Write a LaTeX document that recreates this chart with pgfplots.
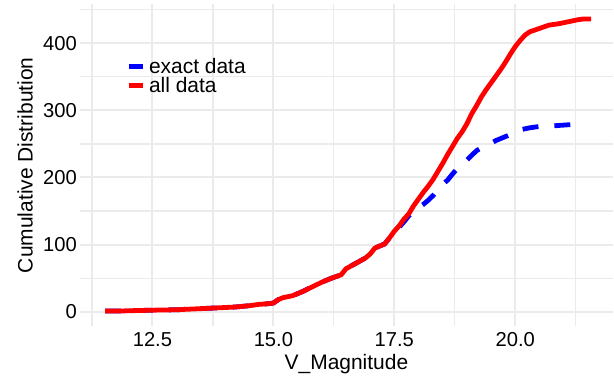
\documentclass[border=0pt]{standalone}
\usepackage{fontspec}
\setmainfont{Liberation Sans}
\usepackage{pgfplots}
\pgfplotsset{compat=1.18}
\definecolor{gridc}{HTML}{EBEBEB}
\begin{document}
\begin{tikzpicture}
\begin{axis}[
  scale only axis,
  width=534pt, height=323pt,
  xmin=11.0, xmax=22.02,
  ymin=-21.9, ymax=458.4,
  axis line style={draw=none},
  tick style={draw=none},
  xtick={12.5,15,17.5,20},
  xticklabels={12.5,15.0,17.5,20.0},
  minor xtick={11.25,13.75,16.25,18.75,21.25},
  ytick={0,100,200,300,400},
  minor ytick={50,150,250,350,450},
  grid=both,
  major grid style={draw=gridc, line width=2pt},
  minor grid style={draw=gridc, line width=1.2pt},
  /pgf/number format/assume math mode=true,
  ticklabel style={font=\fontsize{20.2}{22}\selectfont, text=black},
  xticklabel style={anchor=base, yshift=-20.5pt},
  yticklabel style={xshift=0.5pt},
  xlabel={V\_Magnitude},
  ylabel={Cumulative Distribution},
  label style={font=\fontsize{21}{24}\selectfont},
  xlabel style={at={(axis description cs:0.5,-0.1331)}, anchor=base},
  ylabel style={at={(axis description cs:-0.0886,0.5)}, anchor=base},
  legend cell align=left,
  legend style={at={(axis description cs:0.081,0.846)}, anchor=north west,
    draw=none, fill=none, font=\fontsize{21}{22}\selectfont,
    row sep=-1pt, column sep=2pt},
  legend image code/.code={\draw[#1, solid, line width=4.8pt] (0pt,0pt) -- (14pt,0pt);},
]
\addplot[blue, line width=4.8pt, dash pattern=on 16pt off 16pt, line join=round] coordinates {
(11.52,1) (11.8,1) (12.0,1.5) (12.3,2) (12.6,2.5) (13.0,3) (13.3,4) (13.6,5)
(13.9,6) (14.2,7) (14.5,9) (14.7,11) (14.9,12) (15.0,13) (15.1,18) (15.2,21)
(15.4,24) (15.6,30) (15.8,37) (16.0,44) (16.2,50) (16.4,55) (16.5,64) (16.7,72)
(16.9,80) (17.0,86) (17.1,95) (17.3,101) (17.4,110)
(17.5,118) (17.6,126) (17.7,134) (17.8,143) (17.9,150) (18.0,155) (18.1,160)
(18.2,166) (18.3,173) (18.4,182) (18.5,190) (18.6,196) (18.7,205) (18.8,213)
(18.9,219) (19.0,226) (19.1,233) (19.2,240) (19.3,244) (19.4,248) (19.5,251)
(19.6,255) (19.7,258) (19.8,261) (19.9,264) (20.0,268) (20.1,271) (20.3,274)
(20.5,276) (20.8,277) (21.0,278) (21.2,279) (21.42,280)
};
\addlegendentry{exact data}
\addplot[red, line width=4.8pt, line join=round] coordinates {
(11.52,1) (11.8,1) (12.0,1.5) (12.3,2) (12.6,2.5) (13.0,3) (13.3,4) (13.6,5)
(13.9,6) (14.2,7) (14.5,9) (14.7,11) (14.9,12) (15.0,13) (15.1,18) (15.2,21)
(15.4,24) (15.6,30) (15.8,37) (16.0,44) (16.2,50) (16.4,55) (16.5,64) (16.7,72)
(16.9,80) (17.0,86) (17.1,95) (17.3,101) (17.4,110) (17.5,120) (17.6,128)
(17.7,138) (17.8,146) (17.9,158) (18.0,168) (18.1,178) (18.2,187) (18.3,197)
(18.4,209) (18.5,221) (18.6,234) (18.7,246) (18.8,258) (18.9,268) (19.0,280)
(19.1,295) (19.2,307) (19.3,320) (19.4,331) (19.5,341) (19.6,351) (19.7,361)
(19.8,372) (19.9,384) (20.0,395) (20.1,404) (20.2,412) (20.3,417) (20.5,422)
(20.7,427) (20.9,429) (21.1,432) (21.3,435) (21.4,436) (21.57,436)
};
\addlegendentry{all data}
\coordinate (sw) at (rel axis cs:0,0);
\coordinate (ne) at (rel axis cs:1,1);
\end{axis}
\path ([xshift=-80pt,yshift=-50pt]sw) rectangle ([yshift=4pt]ne);
\end{tikzpicture}
\end{document}
